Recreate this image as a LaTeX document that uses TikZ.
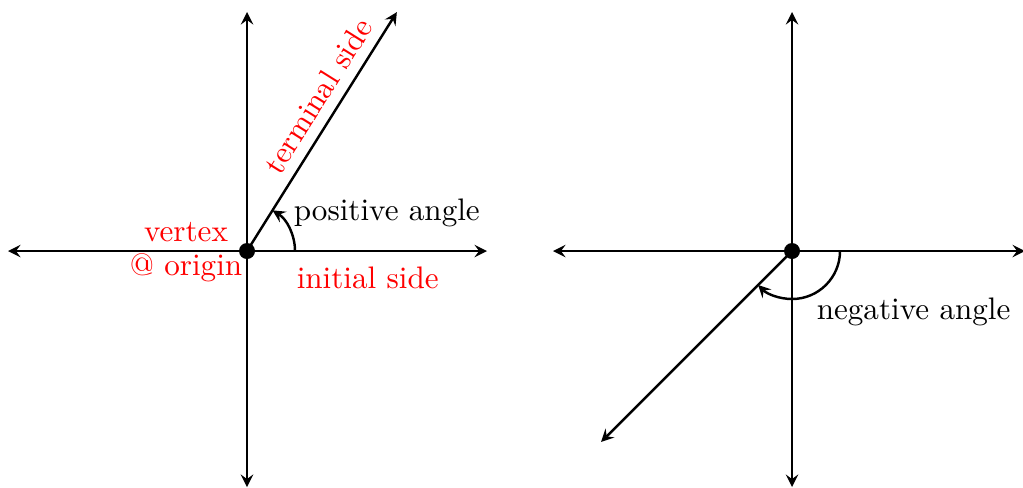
\documentclass[tikz,border=0pt]{standalone}
\usepackage{tikz}
\usetikzlibrary{positioning,arrows.meta,calc}
\definecolor{angRed}{RGB}{255,0,0}
\definecolor{angGray}{RGB}{0,0,0}

\begin{document}
\begin{tikzpicture}[x=0.1152cm, y=0.1152cm, >=stealth, font=\fontsize{10.2}{12}\selectfont]
  \useasboundingbox (0,0) rectangle (102.3,48.7);
  \tikzset{
    axis/.style={<->, angGray, thick},
    ray/.style={->, angGray, thick},
    sweep/.style={->, angGray, thick},
    redlbl/.style={text=angRed},
    vdot/.style={fill=angGray}
  }

  % Positive angle (left)
  \coordinate (O1) at (24.7,23.6);
  \coordinate (L1) at (0.8,23.6);
  \coordinate (R1) at (48.7,23.6);
  \coordinate (T1) at (24.7,47.5);
  \coordinate (B1) at (24.7,0);
  \coordinate (E1) at ($(O1)+(57.9:28.2)$);
  \draw[axis] (L1) -- (R1);
  \draw[axis] (B1) -- (T1);
  \draw[ray] (O1) -- (E1) node[pos=0.6, sloped, above, redlbl] {terminal side};
  \draw[sweep] ($(O1)+(4.8,0)$) arc[start angle=0, end angle=57.9, radius=4.8];
  \fill[vdot] (O1) circle (0.8);
  \node[anchor=west] (pos) at (28.3,27.4) {positive angle};
  \node[redlbl, anchor=west] (ini) at (28.6,20.9) {initial side};
  \node[redlbl, align=center, font=\fontsize{10.2}{11.2}\selectfont] (vtx) at (18.6,23.5) {vertex\\@ origin};

  % Negative angle (right)
  \coordinate (O2) at (79.2,23.6);
  \coordinate (L2) at (55.3,23.6);
  \coordinate (R2) at (102.5,23.6);
  \coordinate (T2) at (79.2,47.5);
  \coordinate (B2) at (79.2,0);
  \coordinate (E2) at ($(O2)+(225:27.0)$);
  \draw[axis] (L2) -- (R2);
  \draw[axis] (B2) -- (T2);
  \draw[ray] (O2) -- (E2);
  \draw[sweep] ($(O2)+(4.8,0)$) arc[start angle=0, end angle=-135, radius=4.8];
  \fill[vdot] (O2) circle (0.8);
  \node[anchor=west] (neg) at (80.6,17.5) {negative angle};
\end{tikzpicture}
\end{document}
